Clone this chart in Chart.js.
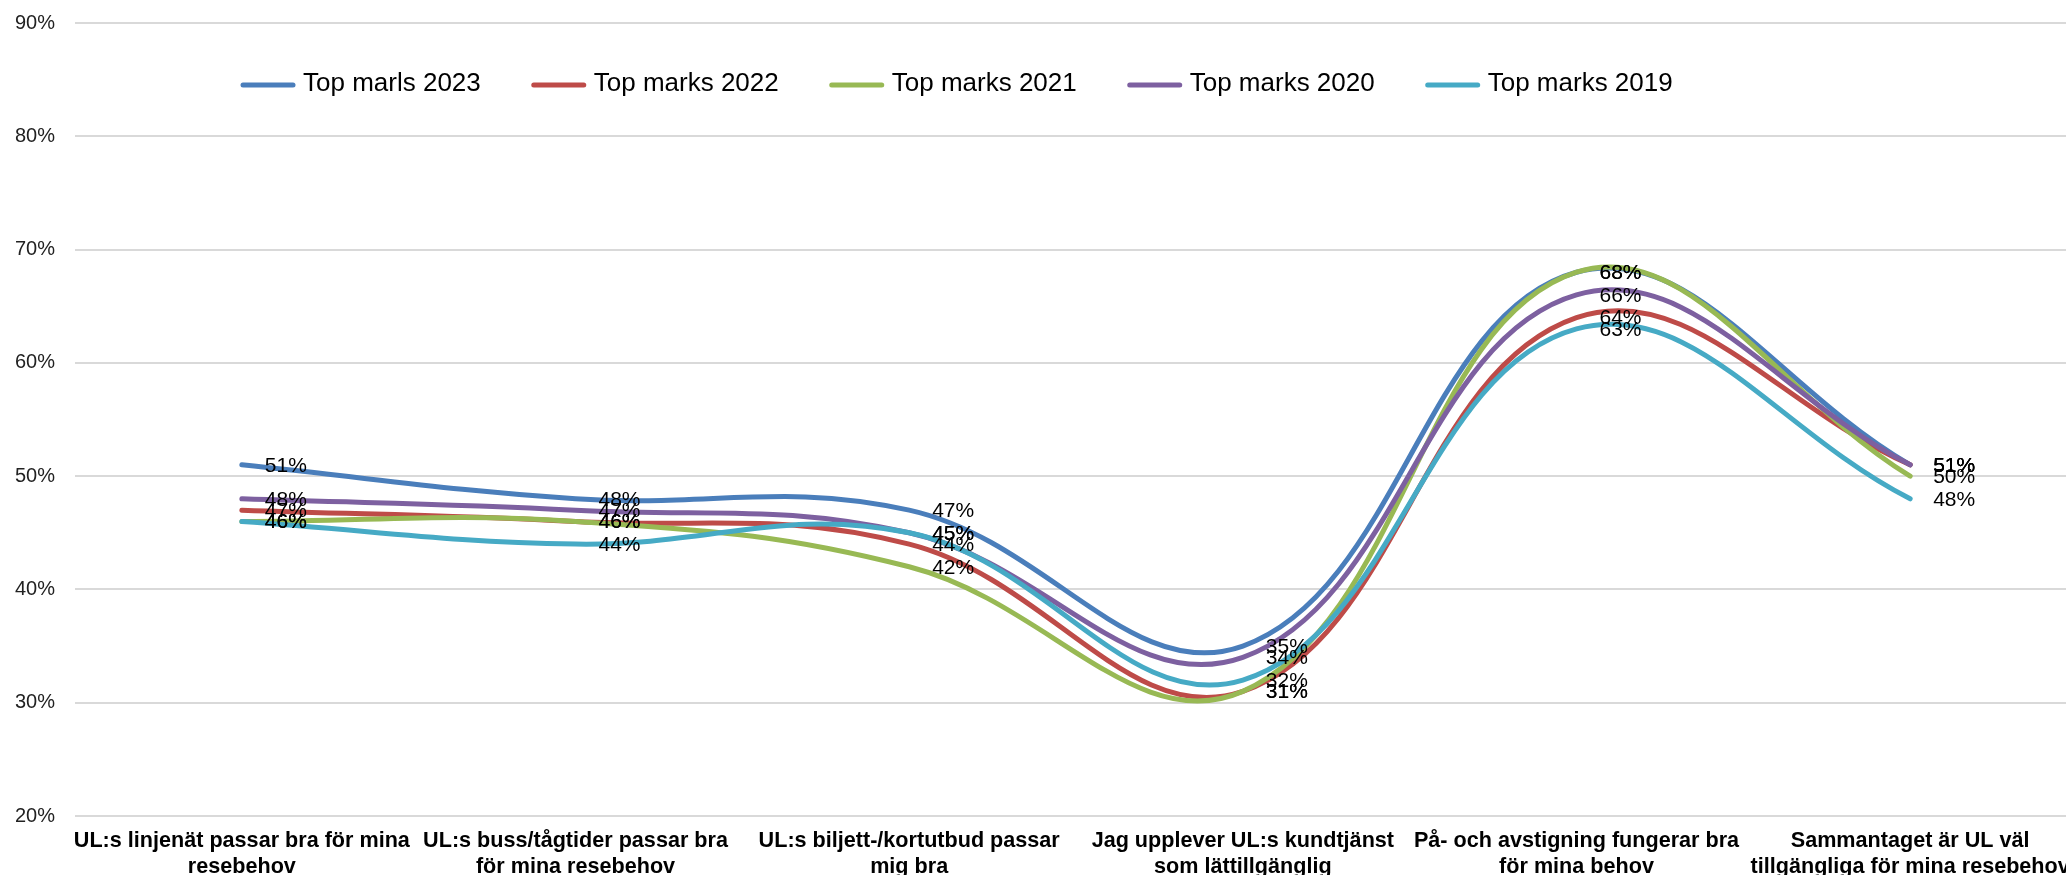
<!DOCTYPE html>
<html>
<head>
<meta charset="utf-8">
<script src="https://cdn.jsdelivr.net/npm/chart.js@4/dist/chart.umd.min.js"></script>
<style>
    html, body { margin: 0; padding: 0; background: #fff; overflow: hidden; }
    #wrap { width: 2080px; height: 875px; }
</style>
</head>
<body>
<div id="wrap">
    <canvas id="chart" width="2080" height="875"></canvas>
</div>
<script>
const categories = [
    ["UL:s linjenät passar bra för mina", "resebehov"],
    ["UL:s buss/tågtider passar bra", "för mina resebehov"],
    ["UL:s biljett-/kortutbud passar", "mig bra"],
    ["Jag upplever UL:s kundtjänst", "som lättillgänglig"],
    ["På- och avstigning fungerar bra", "för mina behov"],
    ["Sammantaget är UL väl", "tillgängliga för mina resebehov"]
];

const seriesNames = ["Top marls 2023", "Top marks 2022", "Top marks 2021", "Top marks 2020", "Top marks 2019"];
const seriesColors = ["#4A7EBB", "#BE4B48", "#98B954", "#7D60A0", "#46AAC5"];

const marks2023 = [51, 48, 47, 35, 68, 51];
const marks2022 = [47, 46, 44, 31, 64, 51];
const marks2021 = [46, 46, 42, 31, 68, 50];
const marks2020 = [48, 47, 45, 34, 66, 51];
const marks2019 = [46, 44, 45, 32, 63, 48];

const seriesValues = [marks2023, marks2022, marks2021, marks2020, marks2019];

const yMin = 20;
const yMax = 90;
const yStep = 10;

const FONT = "'Liberation Sans', Arial, sans-serif";

// percent labels next to every point, drawn after all lines like Excel does
const pointLabels = {
    id: "pointLabels",
    afterDatasetsDraw(chart) {
        const ctx = chart.ctx;
        ctx.save();
        ctx.font = "21px " + FONT;
        ctx.fillStyle = "#000";
        ctx.textAlign = "left";
        ctx.textBaseline = "middle";
        chart.data.datasets.forEach((ds, i) => {
            const meta = chart.getDatasetMeta(i);
            meta.data.forEach((pt, j) => {
                ctx.fillText(ds.data[j] + "%", pt.x + 23, pt.y + 1);
            });
        });
        ctx.restore();
    }
};

// legend sits inside the plot, between the 90% and 80% lines
const insideLegend = {
    id: "insideLegend",
    afterDraw(chart) {
        const ctx = chart.ctx;
        const y = 85;
        let x = chart.chartArea.left + 166;
        ctx.save();
        ctx.font = "26px " + FONT;
        ctx.textBaseline = "middle";
        ctx.textAlign = "left";
        seriesNames.forEach((name, i) => {
            ctx.strokeStyle = seriesColors[i];
            ctx.lineWidth = 5;
            ctx.lineCap = "round";
            ctx.beginPath();
            ctx.moveTo(x + 2, y);
            ctx.lineTo(x + 52, y);
            ctx.stroke();
            ctx.fillStyle = "#000";
            ctx.fillText(name, x + 62, y - 1);
            x += 62 + ctx.measureText(name).width + 51;
        });
        ctx.restore();
    }
};

const datasets = seriesValues.map((values, i) => ({
    label: seriesNames[i],
    data: values,
    borderColor: seriesColors[i],
    backgroundColor: seriesColors[i],
    borderWidth: 5,
    borderCapStyle: "round",
    borderJoinStyle: "round",
    tension: 0.4,
    pointRadius: 0,
    fill: false,
    order: seriesValues.length - i // later series on top
}));

new Chart(document.getElementById("chart"), {
    type: "line",
    data: {
        labels: categories,
        datasets: datasets
    },
    options: {
        responsive: false,
        animation: false,
        devicePixelRatio: 1,
        layout: {
            padding: { top: 23, right: 3, left: 0, bottom: 0 }
        },
        plugins: {
            legend: { display: false },
            tooltip: { enabled: false }
        },
        scales: {
            x: {
                offset: true,
                grid: { display: false },
                border: { display: false },
                ticks: {
                    autoSkip: false,
                    maxRotation: 0,
                    padding: 4,
                    color: "#000",
                    font: { family: FONT, size: 21.6, weight: "bold", lineHeight: 1.2 }
                },
                afterFit(scale) {
                    scale.height = 59;
                }
            },
            y: {
                min: yMin,
                max: yMax,
                grid: { color: "#D9D9D9", lineWidth: 2, drawTicks: false },
                border: { display: false },
                ticks: {
                    stepSize: yStep,
                    padding: 20,
                    color: "#222",
                    font: { family: FONT, size: 20 },
                    callback: (v) => v + "%"
                },
                afterFit(scale) {
                    scale.width = 75;
                    // let layout padding decide where the 90% line sits
                    scale.paddingTop = 0;
                    scale.paddingBottom = 0;
                }
            }
        }
    },
    plugins: [pointLabels, insideLegend]
});
</script>
</body>
</html>
